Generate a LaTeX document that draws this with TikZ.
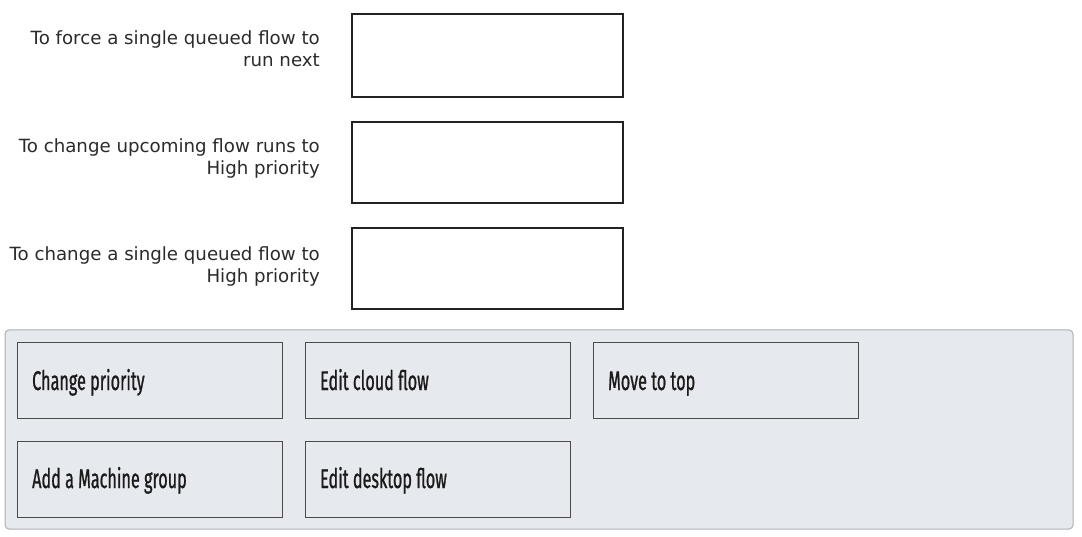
\documentclass[tikz,border=0pt]{standalone}
\usepackage{fontspec}
\setmainfont{DejaVu Sans}
\newfontfamily\lblfont{DejaVu Sans}
\newfontfamily\btnfont[FakeStretch=0.6,FakeBold=0.8]{Fira Sans}
\definecolor{panelfill}{HTML}{E6E9ED}
\definecolor{panelline}{HTML}{ADB1B5}
\definecolor{boxline}{HTML}{4A4A4A}
\definecolor{slotline}{HTML}{222222}
\definecolor{txt}{HTML}{2B2B2B}
\definecolor{btntxt}{HTML}{1A1A1A}
\begin{document}
\begin{tikzpicture}[x=1pt,y=-1pt,
  lbl/.style={anchor=base east,align=right,inner sep=0pt,text=txt,
    font=\lblfont\fontsize{18.2}{22}\selectfont},
  slot/.style={draw=slotline,line width=1.4pt,fill=white},
  panel/.style={draw=panelline,fill=panelfill,line width=1pt,rounded corners=4pt},
  btn/.style={draw=boxline,line width=1pt,fill=panelfill},
  btntext/.style={anchor=base west,inner sep=0pt,text=btntxt,
    font=\btnfont\fontsize{27}{30}\selectfont}]
\useasboundingbox (0,0) rectangle (1082,537);
\fill[white] (0,0) rectangle (1082,537);
% labels (base anchor = baseline of the last line)
\node[lbl] (l1) at (320,67) {To force a single queued flow to\\run next};
\node[lbl] (l2) at (320,175) {To change upcoming flow runs to\\High priority};
\node[lbl] (l3) at (320,283) {To change a single queued flow to\\High priority};
% answer slots
\draw[slot] (352,14) rectangle (623,97) coordinate (s1);
\draw[slot] (352,122) rectangle (623,203) coordinate (s2);
\draw[slot] (352,228) rectangle (623,309) coordinate (s3);
% panel
\draw[panel] (5,330) rectangle (1073,529);
% buttons
\draw[btn] (17,343) rectangle (282,418);
\draw[btn] (305,343) rectangle (570,418);
\draw[btn] (593,343) rectangle (858,418);
\draw[btn] (17,441) rectangle (282,517);
\draw[btn] (305,441) rectangle (570,517);
\node[btntext] (b1) at (32,390) {Change priority};
\node[btntext] (b2) at (320,390) {Edit cloud flow};
\node[btntext] (b3) at (608,390) {Move to top};
\node[btntext] (b4) at (32,488) {Add a Machine group};
\node[btntext] (b5) at (320,488) {Edit desktop flow};
\end{tikzpicture}
\end{document}
